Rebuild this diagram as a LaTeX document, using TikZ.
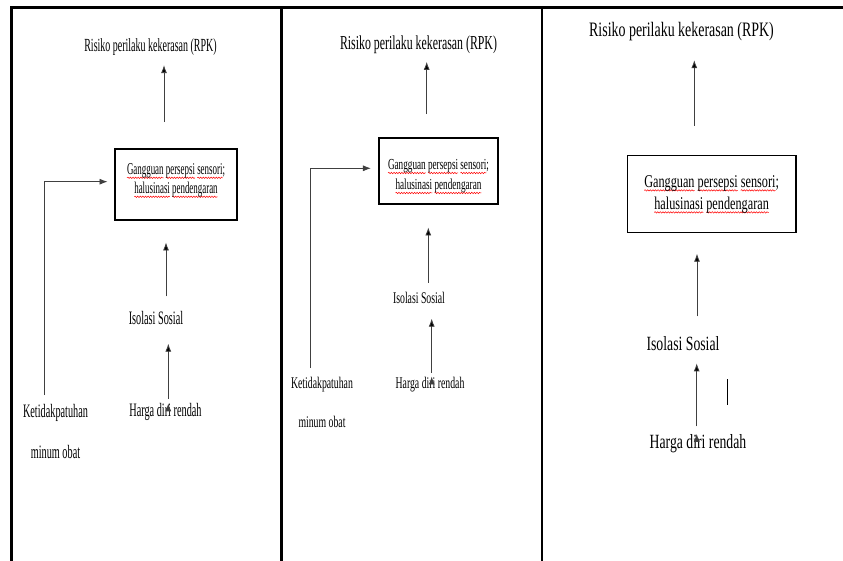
\documentclass[tikz,border=0pt]{standalone}
\usepackage{fontspec}
\usetikzlibrary{arrows.meta,decorations.pathmorphing}
\newfontfamily\pone[FakeStretch=0.54]{Liberation Serif}
\newfontfamily\ptwo[FakeStretch=0.6]{Liberation Serif}
\newfontfamily\pthree[FakeStretch=0.68]{Liberation Serif}
\newsavebox\sqbox
\newcommand\squig[1]{\sbox\sqbox{#1}\rlap{\tikz[overlay]\draw[red, line width=0.5pt, decorate, decoration={snake, amplitude=0.7pt, segment length=2.6pt}] (0pt,-3pt) -- (\wd\sqbox,-3pt);}\usebox\sqbox}
\newcommand\duabaris[1]{\raisebox{#1}[\height][\depth]{\begin{tabular}{@{}c@{}}\squig{Gangguan} \squig{persepsi} \squig{sensori};\\\squig{halusinasi} \squig{pendengaran}\end{tabular}}}

\begin{document}
\begin{tikzpicture}[x=1pt, y=-1pt,
	lbl/.style={inner sep=0pt, anchor=base, align=center},
	kotak/.style={draw, line width=1.5pt, inner sep=0pt},
	arr/.style={draw=black!75, line width=0.8pt, -{Latex[length=8pt, width=6pt]}},
	frame/.style={line width=2.6pt}]
	\useasboundingbox (0,0) rectangle (843,561);

	\draw[frame] (11.5,561) -- (11.5,7.5) -- (843,7.5);
	\draw[frame] (281.5,7.5) -- (281.5,561);
	\draw[frame] (542,7.5) -- (542,561);

	\node[lbl, font=\pone\fontsize{18.5}{22}\selectfont] (r1) at (150.5,52) {Risiko perilaku kekerasan (RPK)};
	\node[kotak, minimum width=122pt, minimum height=71pt, font=\pone\fontsize{16.5}{19}\selectfont] (g1) at (176,184.5) {\duabaris{4pt}};
	\node[lbl, font=\pone\fontsize{19}{22}\selectfont] (i1) at (156,324.3) {Isolasi Sosial};
	\node[lbl, font=\pone\fontsize{19}{22}\selectfont] (h1) at (165.5,416.7) {Harga diri rendah};
	\node[lbl, anchor=north, font=\pone\fontsize{19}{41}\selectfont] (k1) at (55.5,404) {Ketidakpatuhan\\minum obat};

	\path[arr]
	([xshift=-12pt]g1.north) edge[shorten <=26pt, shorten >=9pt] ([xshift=-12pt]g1.north |- r1.south)
	([xshift=10pt]i1.north) edge[shorten <=14.6pt, shorten >=21.7pt] ([xshift=10pt]i1.north |- g1.south)
	([xshift=2.8pt]h1.north) edge[shorten <=4.5pt, shorten >=19pt] ([xshift=2.8pt]h1.north |- i1.south);
	\draw[arr, shorten <=9pt, shorten >=6.7pt] ([xshift=-11.5pt]k1.north) |- ([yshift=2.8pt]g1.west);

	\node[lbl, font=\ptwo\fontsize{19.75}{22}\selectfont] (r2) at (418.5,50) {Risiko perilaku kekerasan (RPK)};
	\node[kotak, minimum width=119pt, minimum height=66pt, font=\ptwo\fontsize{15.3}{20}\selectfont] (g2) at (438.5,171) {\duabaris{-5pt}};
	\node[lbl, font=\ptwo\fontsize{16.3}{20}\selectfont] (i2) at (419,304) {Isolasi Sosial};
	\node[lbl, font=\ptwo\fontsize{16.3}{20}\selectfont] (h2) at (430,388) {Harga diri rendah};
	\node[lbl, anchor=north, font=\ptwo\fontsize{16.3}{39}\selectfont] (k2) at (322,376.9) {Ketidakpatuhan\\minum obat};

	\path[arr]
	([xshift=-11.8pt]g2.north) edge[shorten <=23pt, shorten >=7.4pt] ([xshift=-11.8pt]g2.north |- r2.south)
	([xshift=9.3pt]i2.north) edge[shorten <=9.9pt, shorten >=22.7pt] ([xshift=9.3pt]i2.north |- g2.south)
	([xshift=1.7pt]h2.north) edge[shorten <=3.9pt, shorten >=14.3pt] ([xshift=1.7pt]h2.north |- i2.south);
	\draw[arr, shorten <=8.9pt, shorten >=7.3pt] ([xshift=-12pt]k2.north) |- ([yshift=2.7pt]g2.west);

	\node[lbl, font=\pthree\fontsize{20.5}{24}\selectfont] (r3) at (681.5,37) {Risiko perilaku kekerasan (RPK)};
	\node[kotak, minimum width=168.7pt, minimum height=76.6pt, font=\pthree\fontsize{18}{22}\selectfont] (g3) at (711.6,194) {\duabaris{0pt}};
	\node[lbl, font=\pthree\fontsize{20.2}{24}\selectfont] (i3) at (683,350) {Isolasi Sosial};
	\node[lbl, font=\pthree\fontsize{20.2}{24}\selectfont] (h3) at (698,448) {Harga diri rendah};

	\path[arr]
	([xshift=-17.3pt]g3.north) edge[shorten <=29pt, shorten >=18.6pt] ([xshift=-17.3pt]g3.north |- r3.south)
	([xshift=14pt]i3.north) edge[shorten <=19.5pt, shorten >=20.7pt] ([xshift=14pt]i3.north |- g3.south)
	([xshift=-1.3pt]h3.north) edge[shorten <=7.5pt, shorten >=13pt] ([xshift=-1.3pt]h3.north |- i3.south);
	\draw[line width=0.8pt] (727.3,379) -- (727.3,405);
\end{tikzpicture}
\end{document}
